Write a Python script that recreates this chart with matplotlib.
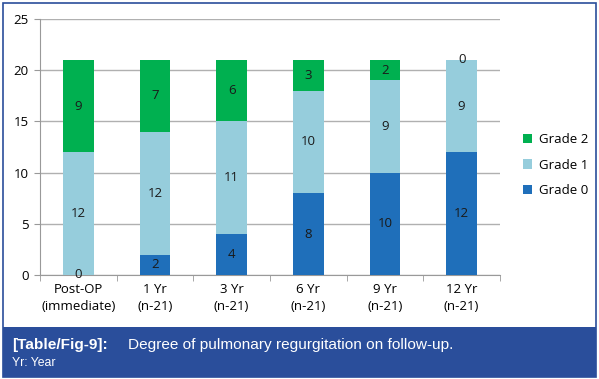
import matplotlib
matplotlib.use("Agg")
import matplotlib.pyplot as plt
from matplotlib.patches import Rectangle
import numpy as np

categories = ["Post-OP\n(immediate)", "1 Yr\n(n-21)", "3 Yr\n(n-21)", "6 Yr\n(n-21)", "9 Yr\n(n-21)", "12 Yr\n(n-21)"]
grade0 = [0, 2, 4, 8, 10, 12]
grade1 = [12, 12, 11, 10, 9, 9]
grade2 = [9, 7, 6, 3, 2, 0]
yticks = [0, 5, 10, 15, 20, 25]

c0 = "#1f6fba"
c1 = "#96cddc"
c2 = "#00b050"
band = "#2a4e9b"

fig = plt.figure(figsize=(5.99, 3.79), dpi=100)
fig.patch.set_facecolor("white")

# outer border
fig.patches.append(Rectangle((3/599, 2/379), 593/599, 374/379, transform=fig.transFigure,
                             fill=False, edgecolor="#2a4e9b", linewidth=1.2, zorder=0))
# caption band
fig.patches.append(Rectangle((3/599, 2/379), 593/599, 50/379, transform=fig.transFigure,
                             facecolor=band, edgecolor="none", zorder=1))
fig.text(12/599, 1 - 345/379, "[Table/Fig-9]:", color="white", fontsize=11.1, fontweight="bold",
         family="Liberation Sans", va="center", ha="left")
fig.text(128/599, 1 - 345/379, "Degree of pulmonary regurgitation on follow-up.", color="white",
         fontsize=11.1, family="Liberation Sans", va="center", ha="left")
fig.text(12/599, 1 - 363/379, "Yr: Year", color="white", fontsize=8.8,
         family="Liberation Sans", va="center", ha="left")

ax = fig.add_axes([40/599, 1 - 275/379, 460/599, 256/379])
x = np.arange(len(categories))
w = 0.4
b0 = ax.bar(x, grade0, w, color=c0, label="Grade 0", zorder=3)
bottom1 = np.array(grade0)
b1 = ax.bar(x, grade1, w, bottom=bottom1, color=c1, label="Grade 1", zorder=3)
bottom2 = bottom1 + np.array(grade1)
b2 = ax.bar(x, grade2, w, bottom=bottom2, color=c2, label="Grade 2", zorder=3)

fs = 9.5
lab_kw = dict(ha="center", va="center", fontsize=fs, family="Open Sans", color="#1a1a1a", zorder=4)
for i in range(len(x)):
    ax.text(x[i], grade0[i] / 2, str(grade0[i]), **lab_kw)
    ax.text(x[i], bottom1[i] + grade1[i] / 2, str(grade1[i]), **lab_kw)
    ax.text(x[i], bottom2[i] + grade2[i] / 2, str(grade2[i]), **lab_kw)

ax.set_xlim(-0.5, len(x) - 0.5)
ax.set_ylim(0, 25)
ax.set_yticks(yticks)
ax.set_yticklabels([str(t) for t in yticks], fontsize=fs, family="Open Sans")
ax.set_xticks(x)
ax.set_xticklabels(categories, fontsize=fs, family="Open Sans", linespacing=1.4)
ax.set_xticks(np.arange(-0.5, len(x), 1), minor=True)
ax.tick_params(axis="x", which="major", length=0, pad=6)
ax.tick_params(axis="x", which="minor", length=4, color="#999999")
ax.tick_params(axis="y", length=4, color="#999999", pad=4)
ax.grid(axis="y", color="#b0b0b0", linewidth=1, zorder=0)
for s in ["top", "right"]:
    ax.spines[s].set_visible(False)
for s in ["left", "bottom"]:
    ax.spines[s].set_color("#999999")
ax.set_facecolor("white")

handles = [b2, b1, b0]
ax.legend(handles, ["Grade 2", "Grade 1", "Grade 0"], loc="center left",
          bbox_to_anchor=((511 - 40)/460, 1 - (165 - 19)/256), frameon=False,
          prop={"family": "Open Sans", "size": fs}, handlelength=0.7, handleheight=0.7,
          handletextpad=0.5, labelspacing=0.95)

fig.savefig("out.png", dpi=100)
